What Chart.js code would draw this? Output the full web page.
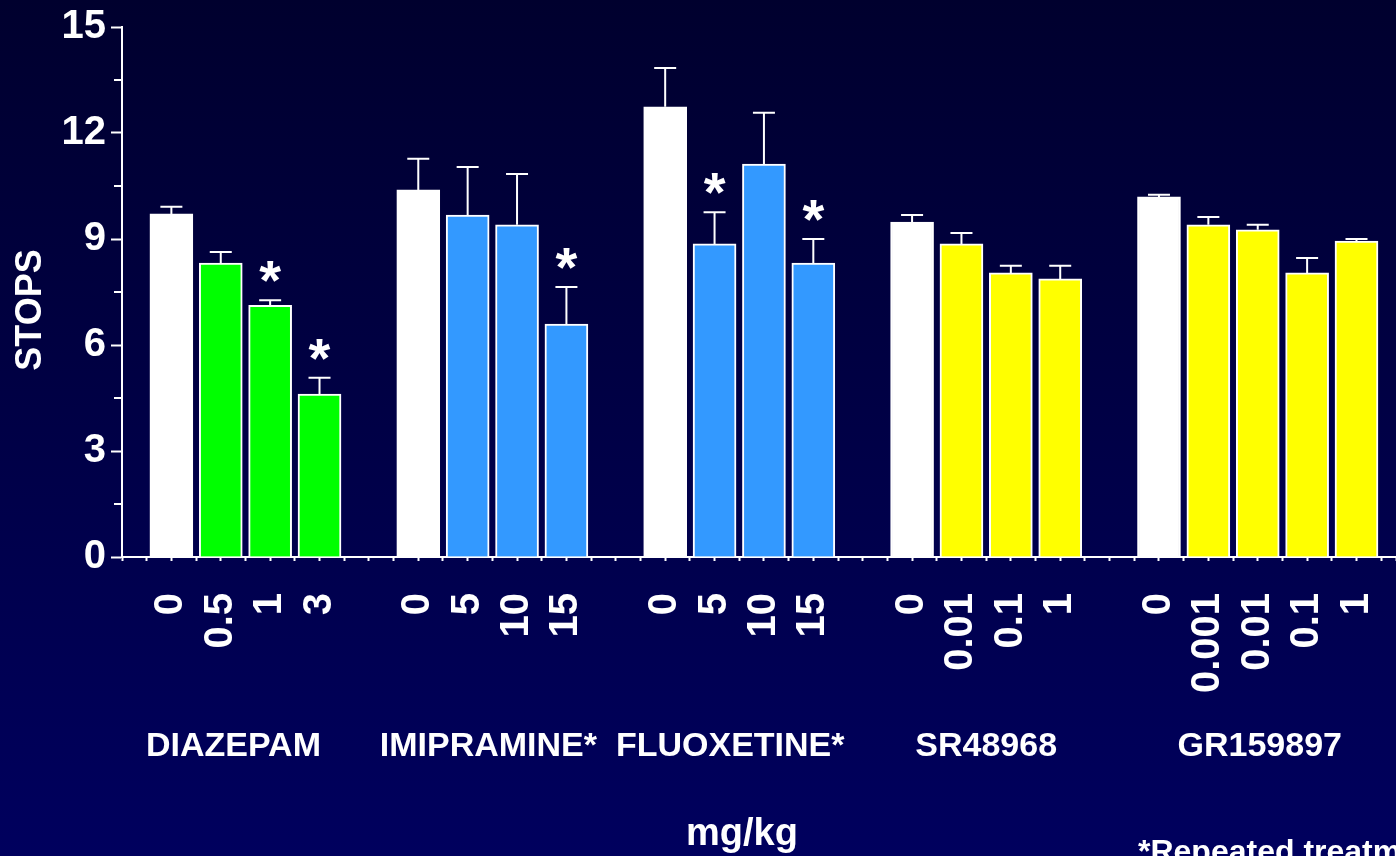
<!DOCTYPE html>
<html>
<head>
<meta charset="utf-8">
<script src="https://cdn.jsdelivr.net/npm/chart.js@4.4.0/dist/chart.umd.min.js"></script>
<style>
  html, body { margin: 0; padding: 0; overflow: hidden; }
  body { width: 1396px; height: 856px; background: linear-gradient(#00002e, #00005e); }
  canvas { display: block; }
</style>
</head>
<body>
<canvas id="stopsChart" width="1396" height="856"></canvas>
<script>
// Données du graphique
const groups = ['DIAZEPAM', 'IMIPRAMINE*', 'FLUOXETINE*', 'SR48968', 'GR159897'];
const groupColors = ['#00ff00', '#3399ff', '#3399ff', '#ffff00', '#ffff00'];
const doses = [
  ['0', '0.5', '1', '3'],
  ['0', '5', '10', '15'],
  ['0', '5', '10', '15'],
  ['0', '0.01', '0.1', '1'],
  ['0', '0.001', '0.01', '0.1', '1']
];
const stops = [9.71, 8.32, 7.12, 4.61, 10.39, 9.68, 9.40, 6.59, 12.74, 8.86, 11.12, 8.32, 9.48, 8.86, 8.04, 7.87, 10.19, 9.40, 9.26, 8.04, 8.94];
const sem = [0.20, 0.31, 0.15, 0.46, 0.88, 1.36, 1.44, 1.05, 1.10, 0.90, 1.45, 0.68, 0.20, 0.31, 0.20, 0.37, 0.06, 0.22, 0.14, 0.42, 0.06];
const significant = [false, false, true, true, false, false, false, true, false, true, false, true, false, false, false, false, false, false, false, false, false];
const yTickStep = 3;

// décalage horizontal des noms de groupe (px), comme sur la diapo
const groupLabelShift = [-12, -4, -9, 0, 2];

// Position de chaque barre : un emplacement vide entre les groupes
const positions = [];
const tickLabels = {};
const barColors = [];
const groupPositions = [];
let pos = 1;
doses.forEach((list, g) => {
  const gp = [];
  list.forEach((d, k) => {
    positions.push(pos);
    tickLabels[pos] = d;
    barColors.push(k === 0 ? '#ffffff' : groupColors[g]);
    gp.push(pos);
    pos++;
  });
  groupPositions.push(gp);
  pos++;
});

const FONT = '"Liberation Sans", Arial, sans-serif';

const decor = {
  id: 'decor',
  afterDatasetsDraw(chart) {
    const { ctx, scales: { x, y } } = chart;
    const meta = chart.getDatasetMeta(0);
    ctx.save();
    ctx.strokeStyle = '#ffffff';
    ctx.fillStyle = '#ffffff';
    ctx.lineWidth = 2;

    // barres d'erreur + astérisques
    meta.data.forEach((bar, i) => {
      const top = y.getPixelForValue(stops[i] + sem[i]);
      const base = y.getPixelForValue(stops[i]);
      ctx.beginPath();
      ctx.moveTo(bar.x, base);
      ctx.lineTo(bar.x, top);
      ctx.moveTo(bar.x - 11, top);
      ctx.lineTo(bar.x + 11, top);
      ctx.stroke();
      if (significant[i]) {
        ctx.font = 'bold 56px ' + FONT;
        ctx.textAlign = 'center';
        ctx.textBaseline = 'alphabetic';
        ctx.fillText('*', bar.x, top - 1);
      }
    });

    // petits traits de l'axe Y
    for (let v = yTickStep / 2; v < y.max; v += yTickStep) {
      const py = y.getPixelForValue(v);
      ctx.beginPath();
      ctx.moveTo(y.right - 8, py);
      ctx.lineTo(y.right, py);
      ctx.stroke();
    }

    // noms des groupes
    ctx.font = 'bold 34px ' + FONT;
    ctx.textAlign = 'center';
    ctx.textBaseline = 'alphabetic';
    groups.forEach((name, g) => {
      const gp = groupPositions[g];
      const cx = (x.getPixelForValue(gp[0]) + x.getPixelForValue(gp[gp.length - 1])) / 2;
      ctx.fillText(name, cx + groupLabelShift[g], 756);
    });

    ctx.font = 'bold 38px ' + FONT;
    ctx.fillText('mg/kg', 742, 845);

    ctx.font = 'bold 32px ' + FONT;
    ctx.textAlign = 'left';
    ctx.fillText('*Repeated treatment', 1138, 862);

    // titre de l'axe Y
    ctx.translate(31, 310);
    ctx.rotate(-Math.PI / 2);
    ctx.font = 'bold 36px ' + FONT;
    ctx.textAlign = 'center';
    ctx.textBaseline = 'middle';
    ctx.fillText('STOPS', 0, 0);
    ctx.restore();
  }
};

const ctx = document.getElementById('stopsChart').getContext('2d');
new Chart(ctx, {
  type: 'bar',
  data: {
    datasets: [{
      data: positions.map((p, i) => ({ x: p, y: stops[i] })),
      backgroundColor: barColors,
      borderColor: '#ffffff',
      borderWidth: 2,
      borderSkipped: 'bottom',
      barThickness: 43
    }]
  },
  options: {
    responsive: false,
    animation: false,
    layout: { autoPadding: false, padding: { top: 27, left: 0, right: 0, bottom: 0 } },
    plugins: { legend: { display: false }, tooltip: { enabled: false } },
    scales: {
      x: {
        type: 'linear',
        min: 0,
        max: 25.8,
        bounds: 'data',
        offset: false,
        afterFit: s => { s.height = 299; s.paddingLeft = 0; s.paddingRight = 0; },
        grid: { offset: false, drawOnChartArea: false, drawTicks: true, tickLength: 4, tickColor: '#ffffff', tickWidth: 2 },
        border: { color: '#ffffff', width: 2 },
        ticks: {
          stepSize: 0.5,
          autoSkip: false,
          includeBounds: false,
          minRotation: 90,
          maxRotation: 90,
          padding: 32,
          color: '#ffffff',
          font: { family: FONT, size: 40, weight: 'bold' },
          callback: v => tickLabels[v] !== undefined ? tickLabels[v] : ''
        }
      },
      y: {
        min: 0,
        max: 15,
        afterFit: s => { s.width = 122; s.paddingTop = 0; s.paddingBottom = 0; },
        grid: { drawOnChartArea: false, tickLength: 11, tickColor: '#ffffff', tickWidth: 2 },
        border: { color: '#ffffff', width: 2 },
        ticks: {
          stepSize: yTickStep,
          padding: 5,
          color: '#ffffff',
          font: { family: FONT, size: 40, weight: 'bold' }
        }
      }
    }
  },
  plugins: [decor]
});
</script>
</body>
</html>
